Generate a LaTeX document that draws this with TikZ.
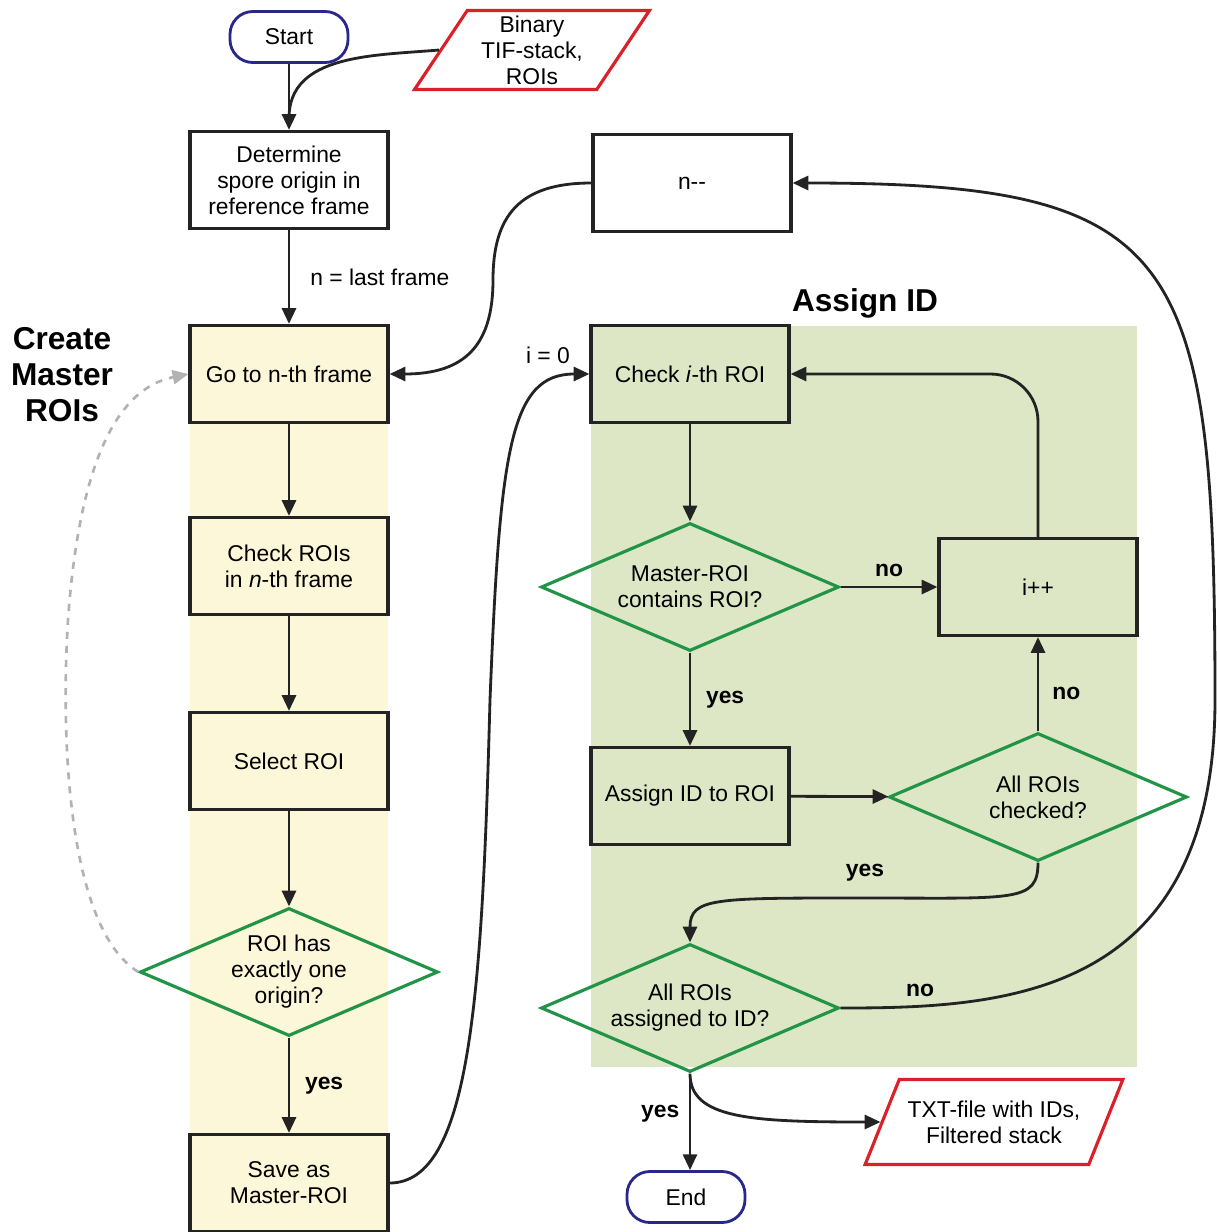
\documentclass[tikz,border=0pt]{standalone}
\usepackage{fontspec}
\setmainfont{Liberation Sans}
\usetikzlibrary{shapes.geometric,arrows.meta}

\definecolor{bandyellow}{RGB}{252,247,216}
\definecolor{bandgreen}{RGB}{221,231,198}
\definecolor{edgegreen}{RGB}{34,148,72}
\definecolor{termblue}{RGB}{40,40,140}
\definecolor{iored}{RGB}{218,32,40}
\definecolor{linegray}{RGB}{35,35,35}

\begin{document}
\begin{tikzpicture}[x=0.2mm,y=0.2mm,
    every node/.style={font=\fontsize{13}{14.8}\selectfont, align=center},
    box/.style={rectangle, draw=linegray, line width=1.8pt, minimum width=3.96cm, minimum height=1.94cm, inner sep=2pt},
    term/.style={rectangle, rounded corners=13pt, draw=termblue, line width=1.6pt, fill=white, minimum width=2.36cm, minimum height=1.02cm},
    io/.style={trapezium, trapezium stretches=true, trapezium left angle=59, trapezium right angle=121, draw=iored, line width=1.8pt, fill=white, inner sep=0pt, minimum width=4.7cm, minimum height=1.58cm},
    dec/.style={diamond, aspect=2.33, draw=edgegreen, line width=1.8pt, inner sep=1pt, minimum width=5.96cm, minimum height=2.56cm},
    flow/.style={draw=linegray, line width=1.6pt, -{Triangle[length=9pt,width=8pt]}},
    line/.style={draw=linegray, line width=1.6pt},
    back/.style={draw=gray!60, line width=1.5pt, dash pattern=on 4pt off 4pt, -{Triangle[length=9pt,width=8pt]}},
    lbl/.style={font=\fontsize{13}{14.8}\selectfont\bfseries},
    title/.style={font=\fontsize{18}{20.5}\selectfont\bfseries}]

    \useasboundingbox (0,0) rectangle (1217,-1232);

    % the two shaded regions
    \fill[bandyellow] (190,-326) rectangle (388,-1232);
    \fill[bandgreen] (591,-326) rectangle (1137,-1067);

    \node[title] (createlbl) at (62,-375) {Create\\Master\\ROIs};
    \node[title] (assignlbl) at (865,-303) {Assign ID};

    % these are the steps of the left column
    \node[term] (start) at (289,-37) {Start};
    \node[io] (binary) at (532,-50) {Binary\\TIF-stack,\\ROIs};
    \node[box, fill=white] (determine) at (289,-180) {Determine\\spore origin in\\reference frame};
    \node[box, fill=bandyellow] (goto) at (289,-374) {Go to n-th frame};
    \node[box, fill=bandyellow] (checkrois) at (289,-566) {Check ROIs\\in \textit{n}-th frame};
    \node[box, fill=bandyellow] (select) at (289,-761) {Select ROI};
    \node[dec] (onecheck) at (289,-972) {ROI has\\exactly one\\origin?};
    \node[box, fill=bandyellow] (save) at (289,-1183) {Save as\\Master-ROI};

    % these are the steps of the right column
    \node[box, fill=white] (ndec) at (692,-183) {n-{}-};
    \node[box, fill=bandgreen] (checki) at (690,-374) {Check \textit{i}-th ROI};
    \node[dec] (contains) at (690,-587) {Master-ROI\\contains ROI?};
    \node[box, fill=bandgreen] (iinc) at (1038,-587) {i++};
    \node[box, fill=bandgreen] (assign) at (690,-796) {Assign ID to ROI};
    \node[dec] (allchecked) at (1038,-797) {All ROIs\\checked?};
    \node[dec] (allassigned) at (690,-1008) {All ROIs\\assigned to ID?};
    \node[term] (end) at (686,-1197) {End};
    \node[io, trapezium left angle=54, trapezium right angle=126, minimum width=5.16cm, minimum height=1.7cm] (txtout) at (994,-1122) {TXT-file with IDs,\\Filtered stack};

    % left column arrows
    \coordinate (merge) at (289,-118);
    \draw[flow] (start) -- (determine);
    \draw[line] (binary.west) to[out=185,in=90] (merge);
    \draw[flow] (determine) -- node[right=8pt] (nlast) {n = last frame} (goto);
    \draw[flow] (goto) -- (checkrois);
    \draw[flow] (checkrois) -- (select);
    \draw[flow] (select) -- (onecheck);
    \draw[flow] (onecheck) -- node[lbl, right=5pt] (yes1) {yes} (save);
    \draw[back] (onecheck.west) .. controls (70,-930) and (60,-750) .. (68,-620) .. controls (78,-480) and (110,-390) .. (goto.west);

    % from master-ROI to assign ID
    \draw[flow] (save.east) .. controls (470,-1183) and (482,-1000) .. (490,-700) .. controls (500,-450) and (510,-374) .. (checki.west);
    \node (izero) at (548,-355) {i = 0};

    % assign ID arrows
    \draw[flow] (checki) -- (contains);
    \draw[flow] (contains) -- node[lbl, above=2pt] (no1) {no} (iinc);
    \draw[flow] (contains) -- node[lbl, right=5pt] (yes2) {yes} (assign);
    \draw[flow] (assign) -- (allchecked);
    \draw[flow] (allchecked) -- node[lbl, right=4pt, pos=0.4] (no2) {no} (iinc);
    \draw[flow, rounded corners=0.95cm] (iinc.north) |- (checki.east);
    \draw[flow] (allchecked.south) .. controls +(0,-40) and +(150,0) .. (865,-898) .. controls +(-150,0) and +(0,45) .. (allassigned.north);
    \node[lbl] (yes3) at (865,-873) {yes};
    \draw[flow] (allassigned.east) .. controls (1000,-1008) and (1215,-1000) .. (1215,-700) .. controls (1215,-250) and (1180,-183) .. (ndec.east);
    \node[lbl] (no3) at (920,-990) {no};
    \draw[flow] (ndec.west) .. controls (520,-183) and (493,-215) .. (493,-280) .. controls (493,-345) and (465,-374) .. (goto.east);

    % outputs
    \draw[flow] (allassigned.south) -- node[lbl, left=2pt, pos=0.42] (yes4) {yes} (allassigned.south |- end.north);
    \draw[flow] (allassigned.south) .. controls +(0,-45) and +(-130,0) .. (txtout.west);

\end{tikzpicture}
\end{document}
